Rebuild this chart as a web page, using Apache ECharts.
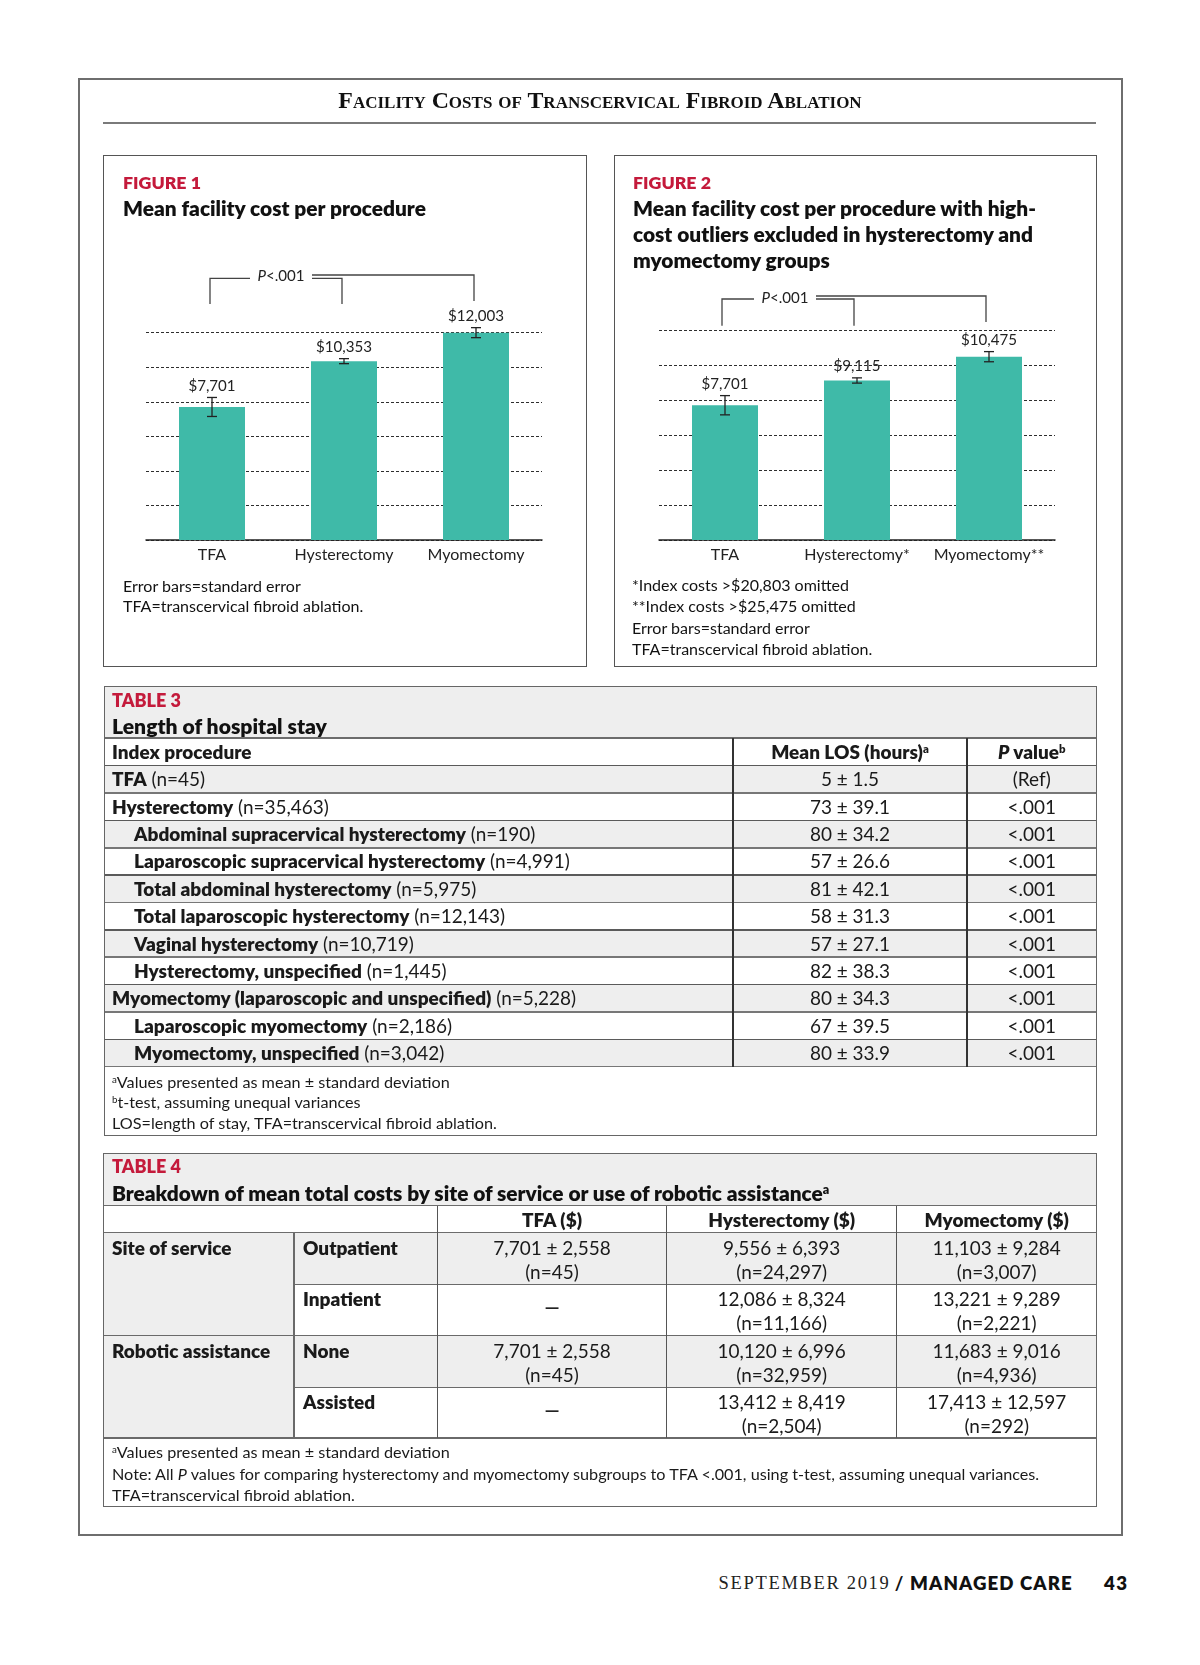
<!DOCTYPE html>
<html><head><meta charset="utf-8">
<script src="https://cdn.jsdelivr.net/npm/echarts/dist/echarts.min.js"></script>
<style>
html,body{margin:0;padding:0;}
body{width:1200px;height:1665px;background:#fff;position:relative;overflow:hidden;font-family:Lato,'Open Sans',sans-serif;color:#1a1a1a;}
.a{position:absolute;white-space:nowrap;}
b{font-weight:800;}
sup{font-size:0.6em;vertical-align:0.55em;line-height:0;}
</style></head>
<body>
<div id="fig1" class="a" style="left:120px;top:240px;width:440px;height:340px;"></div>
<div id="fig2" class="a" style="left:630px;top:260px;width:440px;height:320px;"></div>
<script>
// ---------------- DATA ----------------
const yMin = 0, yMax = 12000, yStep = 2000;
const fig1Categories = ['TFA', 'Hysterectomy', 'Myomectomy'];
const fig1Means = [7701, 10353, 12003];
const fig1SE = [550, 145, 290];
const fig2Categories = ['TFA', 'Hysterectomy*', 'Myomectomy**'];
const fig2Means = [7701, 9115, 10475];
const fig2SE = [550, 150, 290];
const fig1Notes = ['Error bars=standard error', 'TFA=transcervical fibroid ablation.'];
const fig2Notes = ['*Index costs &gt;$20,803 omitted', '**Index costs &gt;$25,475 omitted', 'Error bars=standard error', 'TFA=transcervical fibroid ablation.'];

const t3Procedures = ['TFA', 'Hysterectomy', 'Abdominal supracervical hysterectomy', 'Laparoscopic supracervical hysterectomy', 'Total abdominal hysterectomy', 'Total laparoscopic hysterectomy', 'Vaginal hysterectomy', 'Hysterectomy, unspecified', 'Myomectomy (laparoscopic and unspecified)', 'Laparoscopic myomectomy', 'Myomectomy, unspecified'];
const t3N = ['45', '35,463', '190', '4,991', '5,975', '12,143', '10,719', '1,445', '5,228', '2,186', '3,042'];
const t3Indent = [0, 0, 1, 1, 1, 1, 1, 1, 0, 1, 1];
const t3LOS = ['5 ± 1.5', '73 ± 39.1', '80 ± 34.2', '57 ± 26.6', '81 ± 42.1', '58 ± 31.3', '57 ± 27.1', '82 ± 38.3', '80 ± 34.3', '67 ± 39.5', '80 ± 33.9'];
const t3P = ['(Ref)', '<.001', '<.001', '<.001', '<.001', '<.001', '<.001', '<.001', '<.001', '<.001', '<.001'];
const t3Notes = ['<sup>a</sup>Values presented as mean ± standard deviation', '<sup>b</sup>t-test, assuming unequal variances', 'LOS=length of stay, TFA=transcervical fibroid ablation.'];

const t4Columns = ['TFA ($)', 'Hysterectomy ($)', 'Myomectomy ($)'];
const t4Groups = ['Site of service', 'Robotic assistance'];
const t4Sub = ['Outpatient', 'Inpatient', 'None', 'Assisted'];
const t4TFA = ['7,701 ± 2,558', '—', '7,701 ± 2,558', '—'];
const t4TFAn = ['45', '', '45', ''];
const t4Hyst = ['9,556 ± 6,393', '12,086 ± 8,324', '10,120 ± 6,996', '13,412 ± 8,419'];
const t4HystN = ['24,297', '11,166', '32,959', '2,504'];
const t4Myo = ['11,103 ± 9,284', '13,221 ± 9,289', '11,683 ± 9,016', '17,413 ± 12,597'];
const t4MyoN = ['3,007', '2,221', '4,936', '292'];
const t4Notes = ['<sup>a</sup>Values presented as mean ± standard deviation', 'Note: All <i>P</i> values for comparing hysterectomy and myomectomy subgroups to TFA &lt;.001, using t-test, assuming unequal variances.', 'TFA=transcervical fibroid ablation.'];

// ---------------- STYLE ----------------
const FONT = "Lato, 'Open Sans', sans-serif";
const SERIF = "'Liberation Serif', 'DejaVu Serif', serif";
const BW = 'font-weight:800';
const RED = '#c41a3b';
const BAR = '#3fbaa8';
const GRAYBG = '#eeeeee';
const LINE = '#6c6c6c';
const INK = '#111';

function add(css, html) { const d = document.createElement('div'); d.className = 'a'; d.style.cssText = css; if (html != null) d.innerHTML = html; document.body.appendChild(d); return d; }
function rect(x, y, w, h, css) { return add(`left:${x}px;top:${y}px;width:${w}px;height:${h}px;${css || ''}`); }
function hl(x1, x2, y, c, w) { w = w || 1.5; return rect(x1, y - w / 2, x2 - x1, w, `background:${c || LINE};z-index:3`); }
function vl(x, y1, y2, c, w) { w = w || 1.5; return rect(x - w / 2, y1, w, y2 - y1, `background:${c || LINE};z-index:3`); }
function txt(x, cy, html, size, css) { const L = Math.round(size * 1.5); return add(`left:${x}px;top:${cy - L / 2}px;line-height:${L}px;font-size:${size}px;z-index:4;${css || ''}`, html); }
function ctxt(cx, cy, html, size, css) { const L = Math.round(size * 1.5); return add(`left:${cx - 300}px;width:600px;text-align:center;top:${cy - L / 2}px;line-height:${L}px;font-size:${size}px;z-index:4;${css || ''}`, html); }
function measure(html, css) { const d = add('left:0;top:-900px;visibility:hidden;' + css, html); const w = d.getBoundingClientRect().width; d.remove(); return w; }
function fit(html, css, target, def) { const w = measure(html, 'font-size:100px;' + css); const s = 100 * target / w; return (isFinite(s) && s > 6 && s < 40) ? s : def; }

const sFigLabel = fit('FIGURE 1', BW, 78, 18);
const sFigTitle = fit('Mean facility cost per procedure', BW, 303, 21);
const sNote = fit('Error bars=standard error', '', 178, 16);
const sRow = fit('Abdominal supracervical hysterectomy', BW, 332, 18);
const sTabLabel = fit('TABLE 3', BW, 69, 18);
const sT3Title = fit('Length of hospital stay', BW, 215, 21);
const sT4Title = fit('Breakdown of mean total costs by site of service or use of robotic assistance', BW, 711, 21);
const sTabNote = fit(t4Notes[1], '', 928, 16);
const sAxis = fit('Hysterectomy', '', 99, 16);
const sVal = fit('$12,003', '', 56, 15);

// ---------------- PAGE FRAME ----------------
rect(78, 78, 1045, 1458, 'border:2px solid #6e6e6e;box-sizing:border-box');
const sHead = fit('Facility Costs of Transcervical Fibroid Ablation', `font-family:${SERIF};font-weight:700;font-variant:small-caps`, 516, 19);
ctxt(600, 100, 'Facility Costs of Transcervical Fibroid Ablation', sHead, `font-family:${SERIF};font-weight:700;font-variant:small-caps;color:#111`);
hl(103, 1096, 123, '#7a7a7a', 2);

// Figure boxes
rect(103, 155, 484, 512, 'border:1.5px solid #555;box-sizing:border-box');
rect(614, 155, 483, 512, 'border:1.5px solid #555;box-sizing:border-box');
txt(123, 182.5, 'FIGURE 1', sFigLabel, `${BW};color:${RED}`);
txt(123, 207.5, 'Mean facility cost per procedure', sFigTitle, `${BW};color:${INK}`);
txt(633, 182.5, 'FIGURE 2', sFigLabel, `${BW};color:${RED}`);
['Mean facility cost per procedure with high-', 'cost outliers excluded in hysterectomy and', 'myomectomy groups'].forEach((l, i) => txt(633, 207.5 + 26 * i, l, sFigTitle, `${BW};color:${INK}`));
fig1Notes.forEach((n, i) => txt(123, 585.5 + 20.5 * i, n, sNote, `color:${INK}`));
fig2Notes.forEach((n, i) => txt(632, 585 + 21.3 * i, n, sNote, `color:${INK}`));

// ---------------- CHARTS ----------------
function fmt(v) { return '$' + v.toLocaleString('en-US'); }
function buildChart(id, cats, means, se, layout) {
  const ch = echarts.init(document.getElementById(id), null, { renderer: 'canvas' });
  ch.setOption({
    animation: false,
    grid: layout.grid,
    xAxis: { type: 'category', data: cats, axisTick: { show: false },
      axisLine: { lineStyle: { color: '#222', width: 1.5 } },
      axisLabel: { interval: 0, fontFamily: FONT, fontSize: sAxis, color: '#222', margin: 7 } },
    yAxis: { type: 'value', min: yMin, max: yMax, interval: yStep,
      axisLabel: { show: false }, axisLine: { show: false }, axisTick: { show: false },
      splitLine: { lineStyle: { color: '#2e2e2e', width: 1, type: [3, 2] } } },
    series: [
      { type: 'bar', data: means, barWidth: layout.barWidth, itemStyle: { color: BAR }, z: 2 },
      { type: 'custom', encode: { x: 0, y: 1 }, z: 4, data: means.map((m, i) => [i, m, se[i]]),
        renderItem: (p, api) => {
          const i = api.value(0), m = api.value(1), s = api.value(2);
          const hi = api.coord([i, m + s]), lo = api.coord([i, m - s]);
          const x = hi[0], cap = 5, st = { stroke: '#222', lineWidth: 1.3 };
          return { type: 'group', children: [
            { type: 'line', shape: { x1: x, y1: hi[1], x2: x, y2: lo[1] }, style: st },
            { type: 'line', shape: { x1: x - cap, y1: hi[1], x2: x + cap, y2: hi[1] }, style: st },
            { type: 'line', shape: { x1: x - cap, y1: lo[1], x2: x + cap, y2: lo[1] }, style: st },
            { type: 'text', x: x, y: hi[1] - 4, style: { text: fmt(m), fontFamily: FONT, fontSize: sVal, fill: '#222', align: 'center', verticalAlign: 'bottom' } }
          ] };
        } },
      { type: 'custom', encode: { x: 0, y: 1 }, z: 4, silent: true, data: [[0, yMax]],
        renderItem: (p, api) => {
          const b = layout.br;
          const top = api.coord([0, yMax])[1];
          const x0 = api.coord([0, 0])[0] + b.dx, x1 = api.coord([1, 0])[0] + b.dx, x2 = api.coord([2, 0])[0] + b.dx;
          const tx = (x0 + x1) / 2 + b.textDx;
          const lowY = top - b.lowY, lowEnd = top - b.lowEnd, upY = top - b.upY, upEnd = top - b.upEnd;
          const st = { stroke: '#444', lineWidth: 1.3, fill: null };
          return { type: 'group', children: [
            { type: 'polyline', shape: { points: [[x0, lowEnd], [x0, lowY], [tx - 31, lowY]] }, style: st },
            { type: 'polyline', shape: { points: [[tx + 31, lowY], [x1, lowY], [x1, lowEnd]] }, style: st },
            { type: 'polyline', shape: { points: [[tx + 31, upY], [x2, upY], [x2, upEnd]] }, style: st },
            { type: 'text', x: tx, y: top - b.textY, style: { text: '{i|P}<.001', fontFamily: FONT, fontSize: sVal, fill: '#222', align: 'center', verticalAlign: 'middle',
              rich: { i: { fontStyle: 'italic', fontFamily: FONT, fontSize: sVal, fill: '#222' } } } }
          ] };
        } }
    ]
  });
}
buildChart('fig1', fig1Categories, fig1Means, fig1SE, {
  grid: { left: 26, right: 18, top: 92.7, bottom: 40 }, barWidth: 66,
  br: { dx: -2, lowY: 54.4, lowEnd: 28.7, upY: 57.7, upEnd: 31.7, textDx: 5, textY: 57 }
});
buildChart('fig2', fig2Categories, fig2Means, fig2SE, {
  grid: { left: 29, right: 15, top: 70, bottom: 40 }, barWidth: 66,
  br: { dx: -3, lowY: 31, lowEnd: 4.3, upY: 34, upEnd: 8, textDx: -3, textY: 32 }
});

// ---------------- TABLE 3 ----------------
(function () {
  const L = 103.5, R = 1096.5, T = 686, B = 1136, hdrTop = 738, hdrH = 27.7, rowH = 27.36;
  const c1 = 733, c2 = 967;
  rect(L, T, R - L, hdrTop - T, `background:${GRAYBG}`);
  txt(112, 700, 'TABLE 3', sTabLabel, `${BW};color:${RED}`);
  txt(112, 726, 'Length of hospital stay', sT3Title, `${BW};color:${INK}`);
  hl(L, R, hdrTop);
  const hcy = hdrTop + hdrH / 2;
  txt(112, hcy, 'Index procedure', sRow, BW);
  ctxt((c1 + c2) / 2, hcy, 'Mean LOS (hours)<sup>a</sup>', sRow, BW);
  ctxt((c2 + R) / 2, hcy, '<i>P</i> value<sup>b</sup>', sRow, BW);
  const rowsTop = hdrTop + hdrH;
  t3Procedures.forEach((p, i) => {
    const y = rowsTop + i * rowH, cy = y + rowH / 2;
    if (i % 2 === 0) rect(L, y, R - L, rowH, `background:${GRAYBG}`);
    hl(L, R, y, i % 2 === 0 ? '#5a5a5a' : '#777');
    txt(t3Indent[i] ? 134 : 112, cy, `<b>${p}</b> (n=${t3N[i]})`, sRow);
    ctxt((c1 + c2) / 2, cy, t3LOS[i].replace('<', '&lt;'), sRow);
    ctxt((c2 + R) / 2, cy, t3P[i].replace('<', '&lt;'), sRow);
  });
  const rowsEnd = rowsTop + t3Procedures.length * rowH;
  hl(L, R, rowsEnd, '#777');
  vl(c1, hdrTop, rowsEnd, '#333', 1.3);
  vl(c2, hdrTop, rowsEnd, '#333', 1.3);
  t3Notes.forEach((n, i) => txt(112, 1081.5 + 20.8 * i, n, sTabNote));
  rect(L, T, R - L, B - T, 'border:1.5px solid #666;box-sizing:border-box;z-index:5');
})();

// ---------------- TABLE 4 ----------------
(function () {
  const L = 103.3, R = 1096.7, T = 1152.7, B = 1506.7, hdrTop = 1205.7, hdrBot = 1232.7;
  const cols = [103.3, 294, 437.3, 666.7, 896.7, 1096.7];
  const rowY = [1232.7, 1284.3, 1335.7, 1387.3, 1438];
  rect(L, T, R - L, hdrTop - T, `background:${GRAYBG}`);
  txt(112, 1166.7, 'TABLE 4', sTabLabel, `${BW};color:${RED}`);
  txt(112, 1192, 'Breakdown of mean total costs by site of service or use of robotic assistance<sup>a</sup>', sT4Title, `${BW};color:${INK}`);
  hl(L, R, hdrTop);
  t4Columns.forEach((c, j) => ctxt((cols[j + 2] + cols[j + 3]) / 2, 1220.2, c, sRow, BW));
  hl(L, R, hdrBot);
  rect(cols[0], rowY[0], cols[1] - cols[0], rowY[4] - rowY[0], `background:${GRAYBG}`);
  t4Sub.forEach((s, i) => {
    const y = rowY[i], h = rowY[i + 1] - rowY[i];
    if (i % 2 === 0) rect(cols[1], y, R - cols[1], h, `background:${GRAYBG}`);
    txt(303, y + 15, s, sRow, BW);
    const vals = [[t4TFA[i], t4TFAn[i]], [t4Hyst[i], t4HystN[i]], [t4Myo[i], t4MyoN[i]]];
    vals.forEach((v, j) => {
      const cx = (cols[j + 2] + cols[j + 3]) / 2;
      if (v[0] === '—') { ctxt(cx, y + 23, '—', sRow, 'color:#222;font-weight:700'); }
      else { ctxt(cx, y + 15, v[0], sRow); ctxt(cx, y + 39, '(n=' + v[1] + ')', sRow); }
    });
    if (i > 0) hl(i === 2 ? L : cols[1], R, y, '#6a6a6a');
  });
  t4Groups.forEach((g, k) => txt(112, rowY[k * 2] + 15, g, sRow, BW));
  hl(L, R, rowY[4], '#6a6a6a');
  vl(cols[1], rowY[0], rowY[4], '#6a6a6a');
  [2, 3, 4].forEach(k => vl(cols[k], hdrTop, rowY[4], '#555', 1.5));
  t4Notes.forEach((n, i) => txt(112, 1452.3 + 21.2 * i, n, sTabNote));
  rect(L, T, R - L, B - T, 'border:1.5px solid #666;box-sizing:border-box;z-index:5');
})();

// ---------------- FOOTER ----------------
const sFoot = fit('SEPTEMBER 2019', `font-family:${SERIF};letter-spacing:0.09em`, 172, 18);
txt(718.6, 1583, 'SEPTEMBER 2019', sFoot, `font-family:${SERIF};letter-spacing:0.09em;color:#222`);
ctxt(899, 1583, '/', sFoot, `font-weight:700;color:#111`);
const sMC = fit('MANAGED CARE', `${BW};letter-spacing:0.06em`, 163, 18);
txt(910, 1583, 'MANAGED CARE', sMC, `${BW};letter-spacing:0.06em;color:#111`);
txt(1104, 1583, '43', sMC, `${BW};letter-spacing:0.08em;color:#111`);
</script>
</body></html>
